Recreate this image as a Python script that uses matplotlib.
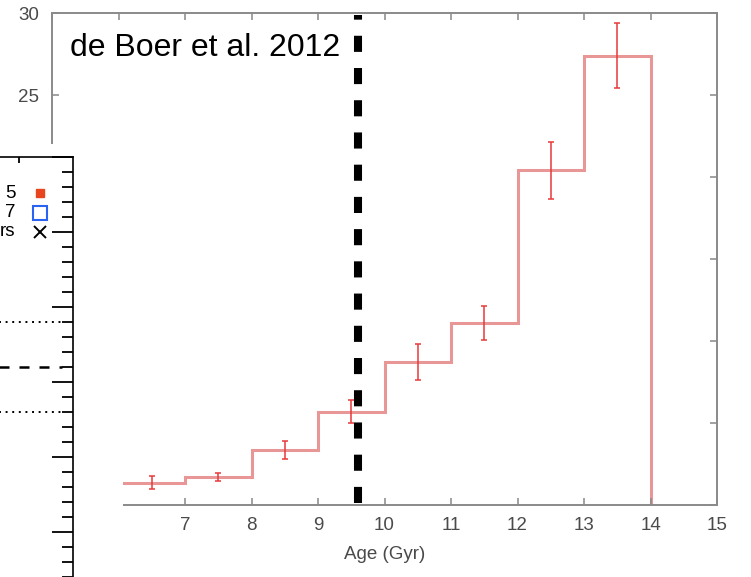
import matplotlib
matplotlib.use("Agg")
import matplotlib.pyplot as plt
from matplotlib.patches import Rectangle
import numpy as np

plt.rcParams['font.family'] = ['Liberation Sans', 'DejaVu Sans']

# star formation history, de Boer et al. 2012 (bins in Gyr)
age_edges = [6, 7, 8, 9, 10, 11, 12, 13, 14]
sfr = [1.35, 1.7, 3.35, 5.7, 8.7, 11.1, 20.4, 27.4]
sfr_err = [0.4, 0.25, 0.55, 0.7, 1.1, 1.05, 1.75, 2.0]
age_cut = 9.6

x_ticks = list(range(5, 16))
y_ticks = [0, 5, 10, 15, 20, 25, 30]

# left overlay panel (cut off by the page edge, only label tails show)
inset_labels = ["5", "7", "rs"]
inset_rows = [5.52, 5.26, 5.0]
inset_dotted = [3.8, 2.6]
inset_dashed = 3.2

W, H = 751, 577
fig = plt.figure(figsize=(W / 100, H / 100), dpi=100)

ax = fig.add_axes([52 / W, 72 / H, 665 / W, 492 / H])
mids = np.array(age_edges[:-1]) + 0.5
ax.stairs(sfr, age_edges, baseline=0, color='#e06a6a', lw=2.2, alpha=0.7)
ax.errorbar(mids, sfr, yerr=sfr_err, fmt='none', ecolor='#e8393a',
            elinewidth=1.1, capsize=2, capthick=1.1)
ax.axvline(age_cut, ymin=0.004, ymax=0.996, color='black', lw=5.8,
           dashes=(2, 2), dash_capstyle='butt')
ax.set_xlim(5, 15)
ax.set_ylim(0, 30)
ax.set_xticks(x_ticks)
ax.set_yticks(y_ticks)
for s in ax.spines.values():
    s.set_color('#8a8a8a')
    s.set_linewidth(1.4)
ax.tick_params(direction='in', length=5, width=1.1, color='#888888',
               top=True, right=True, labelsize=13.5, labelcolor='#4a4a4a', pad=9)
ax.set_xlabel("Age (Gyr)", fontsize=13.5, color='#4a4a4a', labelpad=8)

fig.text(70 / W, (H - 48) / H, "de Boer et al. 2012", fontsize=23,
         va='center', ha='left', color='black')

# white patch that the pasted panel sits on
fig.add_artist(Rectangle((0, 0), 122.5 / W, (H - 144) / H, transform=fig.transFigure,
                         facecolor='white', edgecolor='none', zorder=1))

ax2 = fig.add_axes([-80 / W, -30 / H, 153 / W, 450 / H], zorder=2)
ax2.set_xlim(-80, 73)
ax2.set_ylim(0, 6)
for y in inset_dotted:
    ax2.plot([-80, 62], [y, y], color='black', lw=1.4, ls=(0, (1, 2.4)))
ax2.plot([-80, 62], [inset_dashed, inset_dashed], color='black', lw=1.8, ls=(0, (4, 4)))
ax2.plot(40, inset_rows[0], 's', color='#e8441e', ms=5.8)
ax2.plot(40, inset_rows[1], 's', mfc='none', mec='#2a64f0', ms=10, mew=1.5)
ax2.plot(40, inset_rows[2], 'x', color='black', ms=9, mew=1.4)
for lab, y in zip(inset_labels, inset_rows):
    ax2.text(15.5, y, lab, fontsize=13.5, ha='right', va='center')
ax2.set_yticks(range(0, 7))
ax2.set_yticks(np.arange(0, 6.01, 0.2), minor=True)
ax2.set_xticks([19])
ax2.tick_params(axis='y', which='major', direction='in', length=15, width=1.3,
                left=False, right=True, labelleft=False)
ax2.tick_params(axis='y', which='minor', direction='in', length=8, width=1.3,
                left=False, right=True)
ax2.tick_params(axis='x', direction='in', length=4, width=1.3,
                bottom=False, top=True, labelbottom=False)
for s in ax2.spines.values():
    s.set_linewidth(1.2)

fig.savefig("out.png", dpi=100)
